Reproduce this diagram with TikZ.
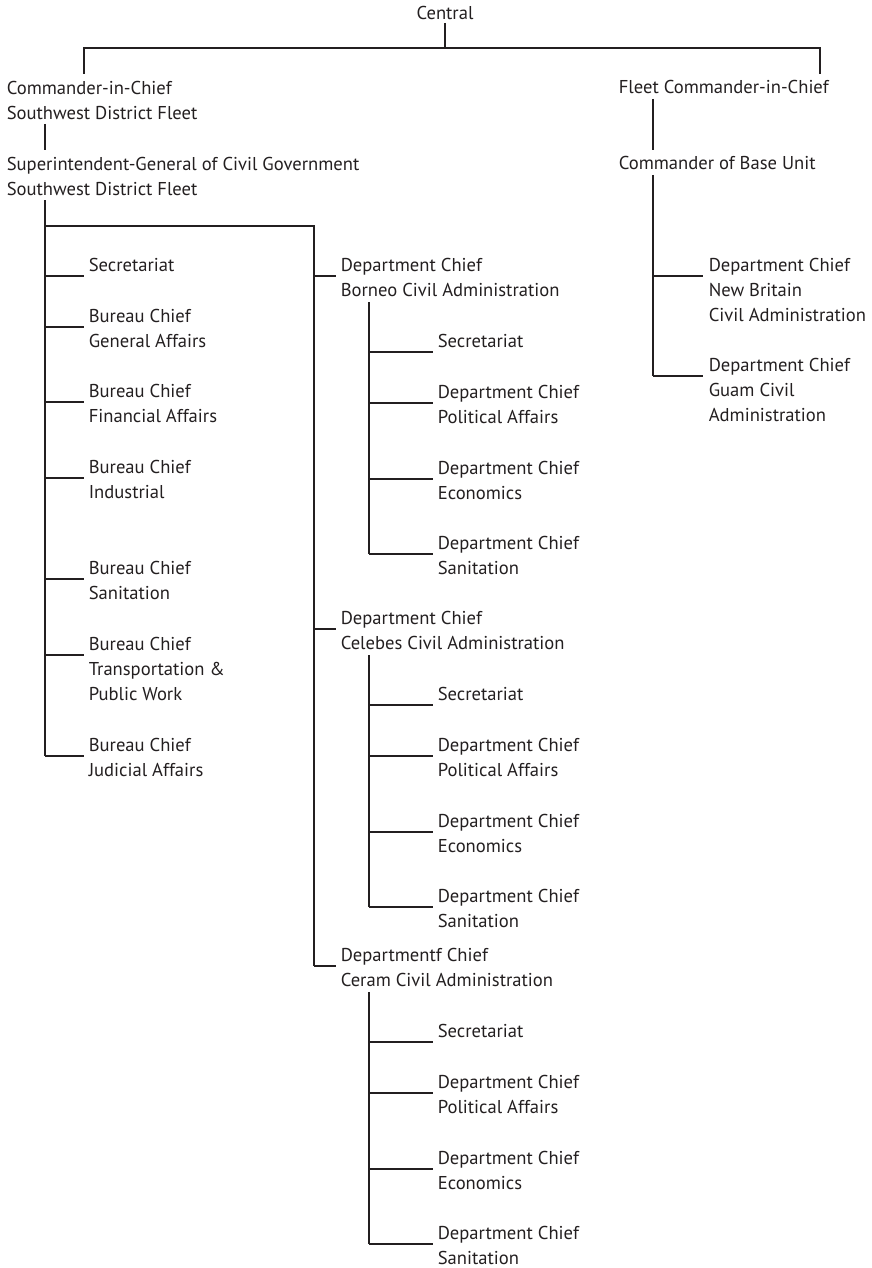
\documentclass[tikz,border=0pt]{standalone}
\usepackage{fontspec}
\setmainfont{PT Sans}
\usetikzlibrary{positioning}
\definecolor{ink}{HTML}{231F20}
\newcommand{\unitlines}[1]{\begin{tabular}[t]{@{}l@{}}#1\end{tabular}}

\begin{document}
\begin{tikzpicture}[x=1pt,y=-1pt,draw=ink,text=ink,line width=1.6pt]
    \tikzstyle{unit}=[inner sep=0pt,anchor=base west,font=\fontsize{18.6}{25}\selectfont]
    \useasboundingbox (0,0) rectangle (871,1268);

    % Top of the chart
    \node[unit,anchor=base] (central) at (445,20) {Central};
    \coordinate (c-top) at (445,48);
    \coordinate (cinc-in) at (84,74);
    \coordinate (fc-in) at (820,74);
    \draw (central.base) ++(0,3) -- (c-top);
    \draw (cinc-in) |- (c-top) -| (fc-in);

    % Southwest District Fleet
    \node[unit] (cinc) at (6,94.5) {\unitlines{Commander-in-Chief\\Southwest District Fleet}};
    \node[unit] (sup) at (6,171) {\unitlines{Superintendent-General of Civil Government\\Southwest District Fleet}};
    \coordinate (cinc-out) at (45,124);
    \coordinate (sup-in) at (45,150);
    \draw (cinc-out) -- (sup-in);

    \coordinate (sup-top) at (45,200);
    \coordinate (fork) at (45,226);
    \coordinate (dept-top) at (314,226);

    % Bureaus under the Superintendent-General
    \foreach \name/\y/\txt in {1/276/Secretariat,
                               2/327/{Bureau Chief\\General Affairs},
                               3/402/{Bureau Chief\\Financial Affairs},
                               4/478/{Bureau Chief\\Industrial},
                               5/579/{Bureau Chief\\Sanitation},
                               6/655/{Bureau Chief\\Transportation \&\\Public Work},
                               7/756/{Bureau Chief\\Judicial Affairs}}{
        \node[unit] (B-\name) at (88,\y-5) {\unitlines{\txt}};
        \coordinate (B-\name-in) at (84,\y);
        \draw (sup-top |- B-\name-in) -- (B-\name-in);
    }
    \draw (sup-top) -- (sup-top |- B-7-in);

    % Civil administrations, each with its own departments
    \foreach \d/\y/\txt in {b/276/{Department Chief\\Borneo Civil Administration},
                            c/629/{Department Chief\\Celebes Civil Administration},
                            r/966/{Departmentf Chief\\Ceram Civil Administration}}{
        \node[unit] (D-\d) at (340,\y-5) {\unitlines{\txt}};
        \coordinate (D-\d-in) at (336,\y);
        \draw (dept-top |- D-\d-in) -- (D-\d-in);
        \coordinate (S-\d-top) at (369,\y+26);
        \foreach \s/\dy/\stxt in {1/76/Secretariat,
                                  2/127/{Department Chief\\Political Affairs},
                                  3/203/{Department Chief\\Economics},
                                  4/278/{Department Chief\\Sanitation}}{
            \node[unit] (S-\d-\s) at (437,\y+\dy-5) {\unitlines{\stxt}};
            \coordinate (S-\d-\s-in) at (433,\y+\dy);
            \draw (S-\d-top |- S-\d-\s-in) -- (S-\d-\s-in);
        }
        \draw (S-\d-top) -- (S-\d-top |- S-\d-4-in);
    }
    \draw (fork) -- (dept-top) -- (dept-top |- D-r-in);

    % Fleet side
    \node[unit] (fc) at (618,93.5) {Fleet Commander-in-Chief};
    \node[unit] (base) at (618,170) {Commander of Base Unit};
    \coordinate (fc-out) at (653,99);
    \coordinate (base-in) at (653,150);
    \coordinate (base-out) at (653,175);
    \draw (fc-out) -- (base-in);

    \foreach \name/\y/\txt in {1/276/{Department Chief\\New Britain\\Civil Administration},
                               2/376/{Department Chief\\Guam Civil\\Administration}}{
        \node[unit] (R-\name) at (708,\y-5) {\unitlines{\txt}};
        \coordinate (R-\name-in) at (703,\y);
        \draw (base-out |- R-\name-in) -- (R-\name-in);
    }
    \draw (base-out) -- (base-out |- R-2-in);
\end{tikzpicture}
\end{document}
